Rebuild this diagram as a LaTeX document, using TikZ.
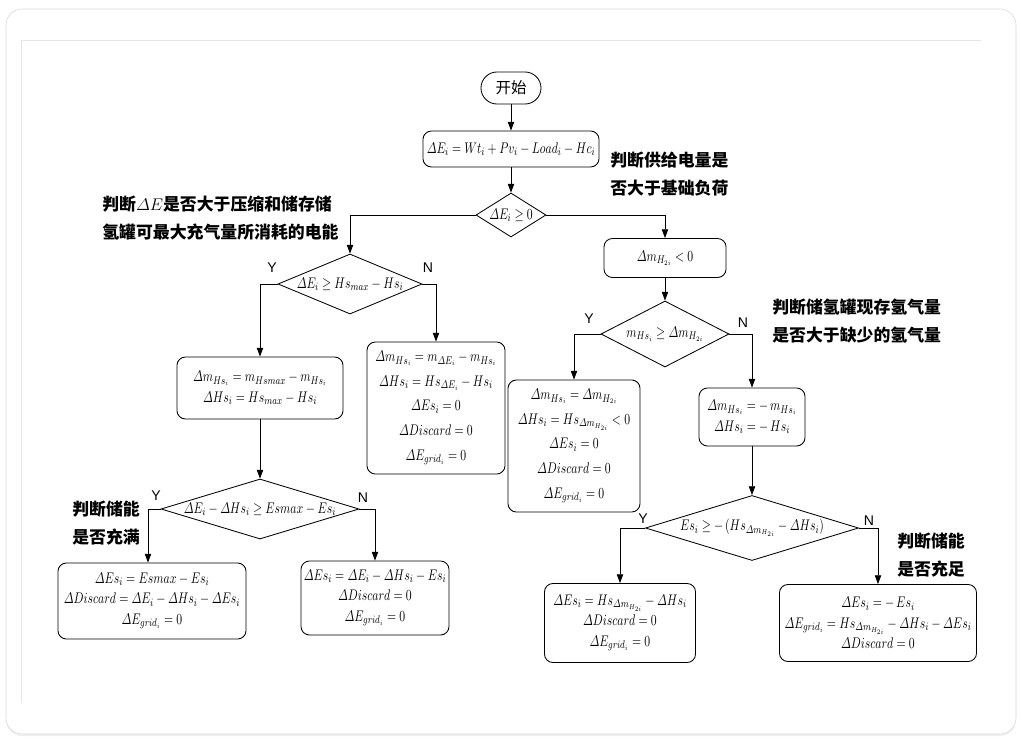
\documentclass[tikz,border=0pt]{standalone}
\usepackage{amsmath,amssymb}
\usepackage{graphicx}
\usepackage{fontspec}
\setsansfont{Liberation Sans}
\newfontfamily\cjk{Noto Sans CJK SC}
\usepackage{tikz}
\usetikzlibrary{arrows.meta,positioning,calc,shapes.geometric,shadows}
\newcommand{\Dt}{\varDelta}
% narrow math line, like the condensed formulas of the original
\newcommand{\nm}[1]{\scalebox{0.76}[1]{$#1$}}
\tikzset{
  flow/.style={-{Triangle[length=2.2mm,width=1.6mm]}, black, line width=0.6pt},
  termbox/.style={draw, line width=0.6pt, rounded corners=0.4cm, minimum width=1.5cm,
                  minimum height=0.8cm, font=\cjk\fontsize{11}{13}\selectfont},
  procbox/.style={draw, line width=0.6pt, rounded corners=6pt, align=center, inner sep=2pt,
                  font=\fontsize{11}{14.5}\selectfont},
  decision/.style={draw, diamond, line width=0.6pt, inner sep=0pt},
  dtext/.style={font=\fontsize{11}{13}\selectfont, inner sep=0pt},
  note/.style={anchor=west, align=left, inner sep=0pt, font=\cjk\bfseries\fontsize{12}{20}\selectfont},
  yn/.style={font=\sffamily\fontsize{10}{12}\selectfont, inner sep=0pt},
}

\begin{document}
\begin{tikzpicture}[x=0.025cm, y=-0.025cm]
  \useasboundingbox (0,0) rectangle (1022,743);
  % frame
  \draw[gray!30, fill=white, rounded corners=0.4cm,
        drop shadow={opacity=0.12, shadow xshift=0pt, shadow yshift=-0.05cm}] (6,9) rectangle (1016,734);
  \draw[gray!20] (981,40) -- (21,40) -- (21,703);

  % main line
  \node[termbox] (start) at (511,88) {开始};
  \node[procbox, minimum width=4.4cm, minimum height=0.9cm] (eq) at (511,149)
       {\nm{\Dt E_i = Wt_i + Pv_i - Load_i - Hc_i}};
  \node[decision, minimum width=1.75cm, minimum height=1.1cm,
        label={[dtext]center:\nm{\Dt E_i \geq 0}}] (d1) at (511,215) {};
  \draw[flow] (start) -- (eq);
  \draw[flow] (eq) -- (d1);

  % left branch
  \node[decision, minimum width=3.6cm, minimum height=1.5cm,
        label={[dtext]center:\nm{\Dt E_i \geq Hs_{max} - Hs_i}}] (d2) at (350,284) {};
  \node[procbox, minimum width=4.15cm, minimum height=1.55cm] (b1) at (260,388)
       {\nm{\Dt m_{Hs_i} = m_{Hsmax} - m_{Hs_i}}\\ \nm{\Dt Hs_i = Hs_{max} - Hs_i}};
  \node[procbox, minimum width=3.45cm, minimum height=3.3cm, font=\fontsize{11}{17.5}\selectfont] (b2) at (436,408)
       {\nm{\Dt m_{Hs_i} = m_{\Dt E_i} - m_{Hs_i}}\\ \nm{\Dt Hs_i = Hs_{\Dt E_i} - Hs_i}\\ \nm{\Dt Es_i = 0}\\
        \nm{\Dt Discard = 0}\\ \nm{\Dt E_{grid_i} = 0}};
  \node[decision, minimum width=4.95cm, minimum height=1.5cm,
        label={[dtext]center:\nm{\Dt E_i - \Dt Hs_i \geq Esmax - Es_i}}] (d3) at (260,509) {};
  \node[procbox, minimum width=4.7cm, minimum height=1.9cm] (b3) at (152,601)
       {\nm{\Dt Es_i = Esmax - Es_i}\\ \nm{\Dt Discard = \Dt E_i - \Dt Hs_i - \Dt Es_i}\\ \nm{\Dt E_{grid_i} = 0}};
  \node[procbox, minimum width=3.525cm, minimum height=1.85cm] (b4) at (375,598)
       {\nm{\Dt Es_i = \Dt E_i - \Dt Hs_i - Es_i}\\ \nm{\Dt Discard = 0}\\ \nm{\Dt E_{grid_i} = 0}};
  \node[yn] (d2y) at (272,268) {Y};
  \node[yn] (d2n) at (428,268) {N};
  \node[yn] (d3y) at (156,496) {Y};
  \node[yn] (d3n) at (363,498) {N};
  \draw[flow] (d1.west) -| (d2);
  \draw[flow] (d2.west) -| (b1);
  \draw[flow] (d2.east) -| (b2);
  \draw[flow] (b1) -- (d3);
  \draw[flow] (d3.west) -| ([xshift=-0.1cm]b3.north);
  \draw[flow] (d3.east) -| (b4);

  % right branch
  \node[procbox, minimum width=3.05cm, minimum height=0.975cm] (b5) at (665,258)
       {\nm{\Dt m_{H_{2i}} < 0}};
  \node[decision, minimum width=3.2cm, minimum height=1.65cm,
        label={[dtext]center:\nm{m_{Hs_i} \geq \Dt m_{H_{2i}}}}] (d4) at (665,334) {};
  \node[procbox, minimum width=3.3cm, minimum height=3.3cm, font=\fontsize{11}{17.5}\selectfont] (b6) at (574,446)
       {\nm{\Dt m_{Hs_i} = \Dt m_{H_{2i}}}\\ \nm{\Dt Hs_i = Hs_{\Dt m_{H_{2i}}} < 0}\\ \nm{\Dt Es_i = 0}\\
        \nm{\Dt Discard = 0}\\ \nm{\Dt E_{grid_i} = 0}};
  \node[procbox, minimum width=2.65cm, minimum height=1.45cm] (b7) at (752,417)
       {\nm{\Dt m_{Hs_i} ={-}\,m_{Hs_i}}\\ \nm{\Dt Hs_i ={-}\,Hs_i}};
  \node[decision, minimum width=5.325cm, minimum height=1.625cm,
        label={[dtext]center:\nm{Es_i \geq{-}\,(Hs_{\Dt m_{H_{2i}}} - \Dt Hs_i)}}] (d5) at (752,528) {};
  \node[procbox, minimum width=3.775cm, minimum height=1.975cm] (b8) at (620,623)
       {\nm{\Dt Es_i = Hs_{\Dt m_{H_{2i}}} - \Dt Hs_i}\\ \nm{\Dt Discard = 0}\\ \nm{\Dt E_{grid_i} = 0}};
  \node[procbox, minimum width=4.925cm, minimum height=1.925cm] (b9) at (878,623)
       {\nm{\Dt Es_i ={-}\,Es_i}\\ \nm{\Dt E_{grid_i} = Hs_{\Dt m_{H_{2i}}} - \Dt Hs_i - \Dt Es_i}\\ \nm{\Dt Discard = 0}};
  \node[yn] (d4y) at (589,319) {Y};
  \node[yn] (d4n) at (743,323) {N};
  \node[yn] (d5y) at (643,519) {Y};
  \node[yn] (d5n) at (869,521) {N};
  \draw[flow] (d1.east) -| (b5);
  \draw[flow] (b5) -- (d4);
  \draw[flow] (d4.west) -| (b6);
  \draw[flow] (d4.east) -| (b7);
  \draw[flow] (b7) -- (d5);
  \draw[flow] (d5.west) -| (b8);
  \draw[flow] (d5.east) -| (b9);

  % notes
  \node[note] (n1) at (610,174) {判断供给电量是\\否大于基础负荷};
  \node[note] (n2) at (102,218) {判断$\Dt E$是否大于压缩和储存储\\氢罐可最大充气量所消耗的电能};
  \node[note] (n3) at (772,321) {判断储氢罐现存氢气量\\是否大于缺少的氢气量};
  \node[note] (n4) at (72,523) {判断储能\\是否充满};
  \node[note] (n5) at (897,555) {判断储能\\是否充足};
\end{tikzpicture}
\end{document}
